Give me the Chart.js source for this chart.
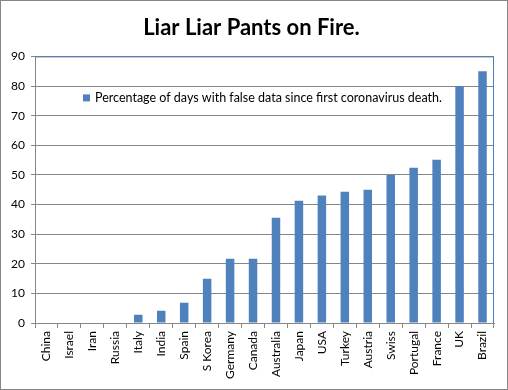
<!DOCTYPE html>
<html>
<head>
<meta charset="utf-8">
<script src="https://cdn.jsdelivr.net/npm/chart.js@4.4.1/dist/chart.umd.min.js"></script>
<style>
    html, body { margin: 0; padding: 0; background: #fff; }
    #wrap { position: relative; width: 508px; height: 390px; box-sizing: border-box; border: 1px solid #868686; }
    #diagram { display: block; }
</style>
</head>
<body>
<div id="wrap">
    <canvas id="diagram" width="506" height="388"></canvas>
</div>
<script type="text/javascript">
    // data
    var countries = ["China", "Israel", "Iran", "Russia", "Italy", "India", "Spain", "S Korea", "Germany", "Canada",
        "Australia", "Japan", "USA", "Turkey", "Austria", "Swiss", "Portugal", "France", "UK", "Brazil"];
    var falseDays = [0, 0, 0, 0, 2.8, 4.1, 6.8, 14.9, 21.7, 21.7, 35.5, 41.3, 43, 44.3, 45, 50, 52.4, 55.1, 80, 85];
    var seriesLabel = "Percentage of days with false data since first coronavirus death.";
    var chartTitle = "Liar Liar Pants on Fire.";

    var fontName = "Lato, 'Open Sans', sans-serif";
    var barColour = "#4f81bd";
    var gridColour = "#868686";

    // frame of the plot area and the legend sitting inside it
    var plotExtras = {
        id: "plotExtras",
        afterDatasetsDraw: function(chart) {
            var ctx = chart.ctx;
            var a = chart.chartArea;
            ctx.save();
            ctx.strokeStyle = "#4a7ebb";
            ctx.lineWidth = 1;
            ctx.beginPath();
            ctx.moveTo(a.left, a.top + 0.5);
            ctx.lineTo(a.right - 0.5, a.top + 0.5);
            ctx.lineTo(a.right - 0.5, a.bottom);
            ctx.stroke();

            // legend
            ctx.fillStyle = barColour;
            ctx.fillRect(a.left + 48, a.top + 38, 7, 7);
            ctx.fillStyle = "#000";
            ctx.font = "12.5px " + fontName;
            ctx.textBaseline = "middle";
            ctx.fillText(seriesLabel, a.left + 60, a.top + 42);
            ctx.restore();
        }
    };

    var ctx = document.getElementById("diagram");
    var myChart = new Chart(ctx, {
        type: "bar",
        data: {
            labels: countries,
            datasets: [{
                label: seriesLabel,
                data: falseDays,
                backgroundColor: barColour,
                borderWidth: 0,
                barPercentage: 0.74,
                categoryPercentage: 0.5
            }]
        },
        options: {
            responsive: false,
            animation: false,
            layout: { padding: { left: 8, right: 13, top: 0, bottom: 4 } },
            plugins: {
                legend: { display: false },
                tooltip: { enabled: false },
                title: {
                    display: true,
                    text: chartTitle,
                    color: "#000",
                    font: { family: fontName, size: 22, weight: "bold" },
                    padding: { top: 14, bottom: 15 }
                }
            },
            scales: {
                x: {
                    grid: {
                        offset: true,
                        drawOnChartArea: false,
                        drawTicks: true,
                        tickLength: 5,
                        color: gridColour
                    },
                    border: { color: gridColour },
                    ticks: {
                        color: "#000",
                        font: { family: fontName, size: 12 },
                        maxRotation: 90,
                        minRotation: 90,
                        autoSkip: false,
                        padding: 3
                    },
                    afterFit: function(scale) { scale.height = 62; }
                },
                y: {
                    min: 0,
                    max: 90,
                    ticks: {
                        stepSize: 10,
                        color: "#000",
                        font: { family: fontName, size: 12 },
                        padding: 6
                    },
                    grid: { color: gridColour, tickLength: 4 },
                    border: { color: gridColour },
                    afterFit: function(scale) { scale.width = 26; }
                }
            }
        },
        plugins: [plotExtras]
    });
</script>
</body>
</html>
